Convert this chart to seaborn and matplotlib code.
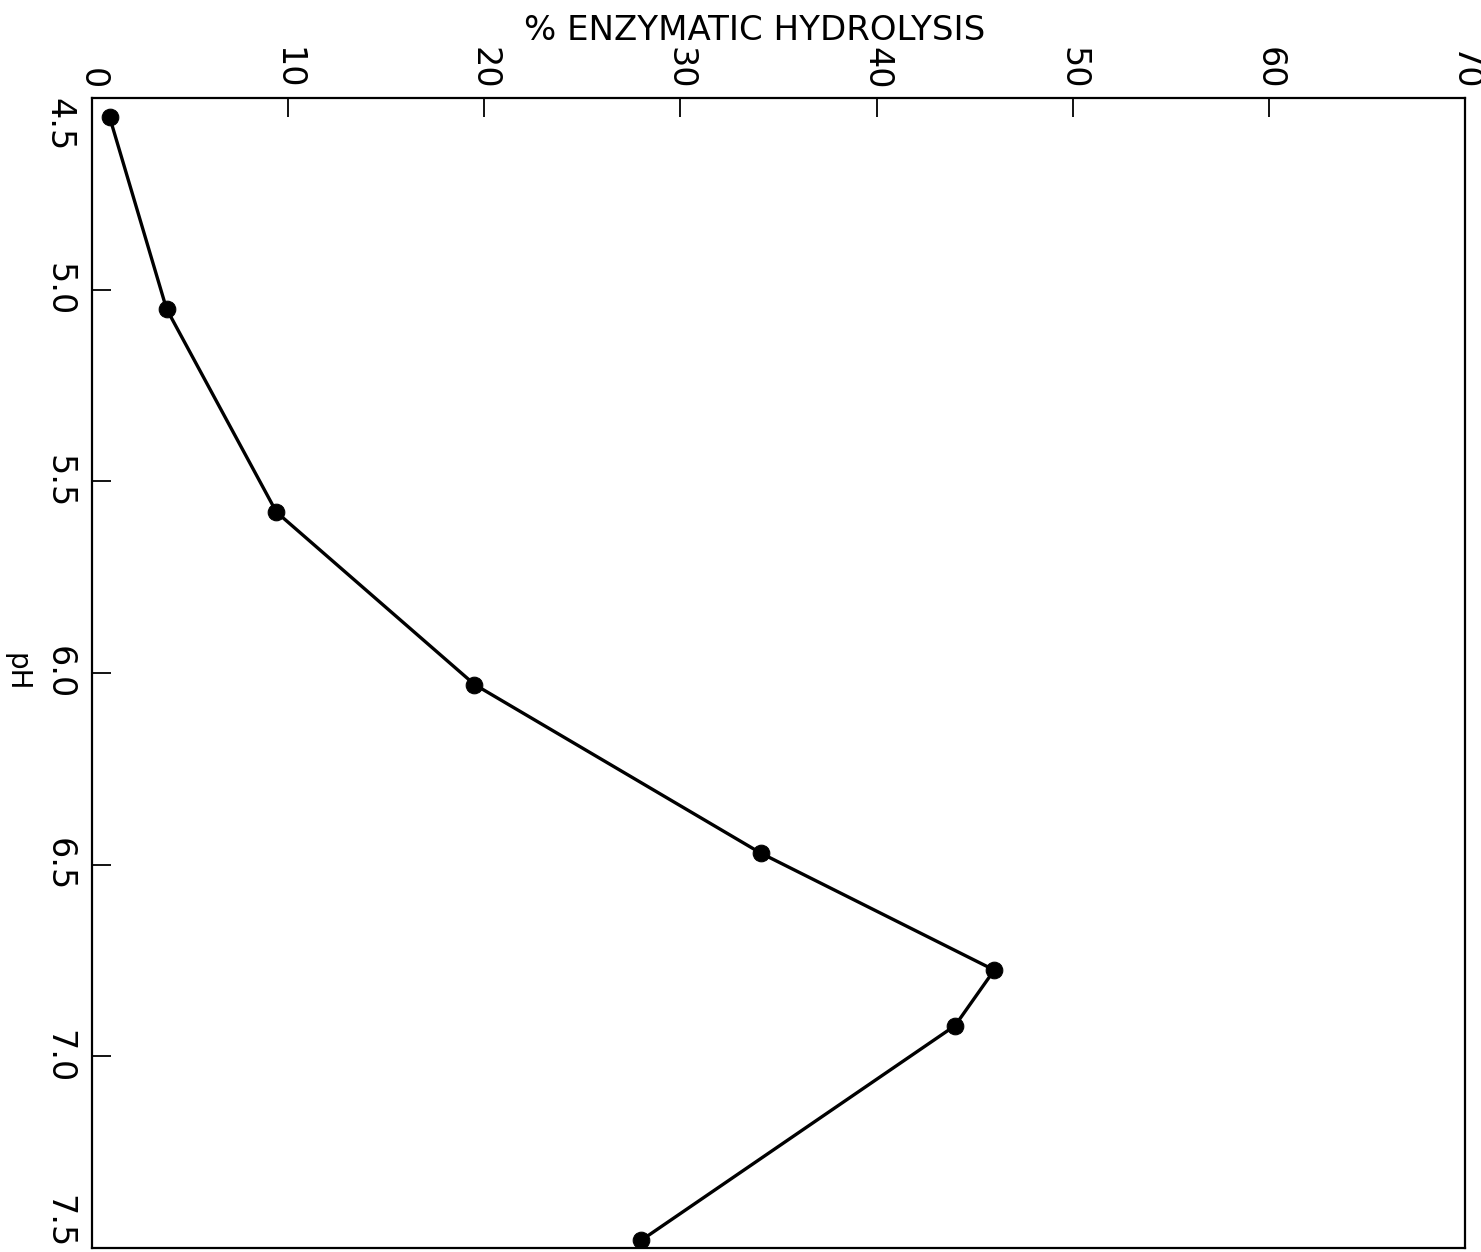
import matplotlib
matplotlib.use("Agg")
import matplotlib.pyplot as plt
import seaborn as sns
import pandas as pd

# Data (rotated chart: pH runs down, hydrolysis runs right)
ph_values = [4.55, 5.05, 5.58, 6.03, 6.47, 6.775, 6.92, 7.48]
hydrolysis_pct = [0.9, 3.8, 9.4, 19.5, 34.1, 46.0, 44.0, 28.0]
x_ticks = [0, 10, 20, 30, 40, 50, 60, 70]
y_ticks = [4.5, 5.0, 5.5, 6.0, 6.5, 7.0, 7.5]
y_tick_labels = ["4.5", "5.0", "5.5", "6.0", "6.5", "7.0", "7.5"]

sns.set_style("white")
plt.rcParams['font.family'] = ['DejaVu Sans']
plt.rcParams['text.color'] = 'black'
plt.rcParams['axes.labelcolor'] = 'black'
plt.rcParams['xtick.color'] = 'black'
plt.rcParams['ytick.color'] = 'black'

df = pd.DataFrame({"hyd": hydrolysis_pct, "ph": ph_values})

fig = plt.figure(figsize=(14.81, 12.52), dpi=100)
ax = fig.add_axes([92/1481, 4/1252, 1373/1481, 1150/1252])

sns.lineplot(data=df, x="hyd", y="ph", sort=False, estimator=None,
             color="black", linewidth=2.4, marker="o", markersize=12,
             markeredgecolor="black", markerfacecolor="black", ax=ax)

ax.set_xlim(0, 70)
ax.set_ylim(7.5, 4.5)

ax.xaxis.tick_top()
ax.set_xticks(x_ticks)
ax.set_xticklabels([str(v) for v in x_ticks], rotation=-90, fontsize=24)
ax.set_yticks(y_ticks)
ax.set_yticklabels(y_tick_labels, rotation=-90, fontsize=24, va="center")
ax.tick_params(axis="x", which="both", direction="in", length=14, width=1.3,
               top=True, bottom=False, pad=6, colors="black")
ax.tick_params(axis="y", which="both", direction="in", length=14, width=1.3,
               left=True, right=False, pad=12, colors="black")

ylabels = ax.get_yticklabels()
ylabels[0].set_va("top")
ylabels[-1].set_va("bottom")

for s in ax.spines.values():
    s.set_visible(True)
    s.set_color("black")
    s.set_linewidth(1.6)

ax.xaxis.set_label_position("top")
ax.set_xlabel("% ENZYMATIC HYDROLYSIS", fontsize=24.5, color="black")
ax.xaxis.set_label_coords((755 - 92) / 1373, (1248 - 40) / 1150)
ax.set_ylabel("pH", rotation=-90, fontsize=20, ha="center", va="center",
              color="black")
ax.yaxis.set_label_coords((16 - 92) / 1373, (1248 - 672) / 1150)

fig.savefig("out.png", dpi=100, facecolor="white")
